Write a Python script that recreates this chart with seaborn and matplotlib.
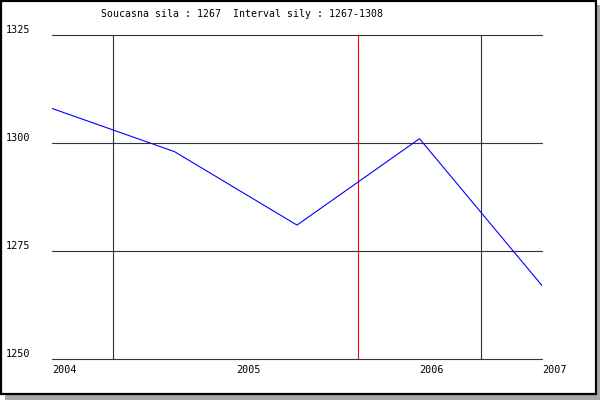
import matplotlib
matplotlib.use("Agg")
import matplotlib.pyplot as plt
import matplotlib.transforms as mtransforms
from matplotlib.patches import Rectangle
import pandas as pd
import seaborn as sns

# hodnoty sily v jednotlivych obdobich
periods = [0, 1, 2, 3, 4]
sila = [1308, 1298, 1281, 1301, 1267]

year_ticks = [0, 1.5, 3, 4]
year_labels = ["2004", "2005", "2006", "2007"]
divider_pos = [0.5, 2.5, 3.5]
divider_colors = ["#333333", "#ff0000", "#333333"]
y_ticks = [1250, 1275, 1300, 1325]

title = "Soucasna sila : 1267  Interval sily : 1267-1308"

W, H = 600, 400

sns.set_style("white")
plt.rcParams["font.family"] = ["DejaVu Sans Mono"]
plt.rcParams["font.size"] = 7.3
plt.rcParams["text.color"] = "black"
plt.rcParams["xtick.color"] = "black"
plt.rcParams["ytick.color"] = "black"

df = pd.DataFrame({"obdobi": periods, "sila": sila})

fig = plt.figure(figsize=(W / 100, H / 100), dpi=100, facecolor="white")

# stin a ramecek kolem celeho obrazku
fig.add_artist(Rectangle((5 / W, 0), 1 - 5 / W, 1 - 5 / H, transform=fig.transFigure,
                         facecolor="#a8a8a8", edgecolor="none", zorder=0))
fig.add_artist(Rectangle((1 / W, 6 / H), 595 / W, 393 / H, transform=fig.transFigure,
                         facecolor="white", edgecolor="black", linewidth=1.6, zorder=0.5))

ax = fig.add_axes([52 / W, 41 / H, 490 / W, 324 / H])
ax.set_zorder(2)
ax.set_facecolor("none")

sns.lineplot(data=df, x="obdobi", y="sila", color="#0000ff", linewidth=0.8, ax=ax)

for pos, col in zip(divider_pos, divider_colors):
    ax.axvline(pos, color=col, linewidth=0.8, zorder=1)

ax.set_xlim(0, 4)
ax.set_ylim(1250, 1325)
ax.set_yticks(y_ticks)
ax.set_xticks(year_ticks)
ax.set_xticklabels(year_labels)
ax.grid(axis="y", color="#333333", linewidth=0.8)
ax.grid(axis="x", visible=False)
ax.set_axisbelow(True)
for gl in ax.get_ygridlines():
    gl.set_clip_on(False)
for s in ax.spines.values():
    s.set_visible(False)
ax.set_xlabel("")
ax.set_ylabel("")

ax.tick_params(axis="both", length=0)
ax.tick_params(axis="y", pad=33)
ax.tick_params(axis="x", pad=4)
up = mtransforms.ScaledTranslation(0, 6 / 100, fig.dpi_scale_trans)
for lab in ax.get_yticklabels():
    lab.set_horizontalalignment("left")
    lab.set_transform(lab.get_transform() + up)
for lab in ax.get_xticklabels():
    lab.set_horizontalalignment("left")

fig.text(101 / W, 1 - 14 / H, title, ha="left", va="center", fontsize=7.1)

fig.savefig("out.png", dpi=100, facecolor="white")
